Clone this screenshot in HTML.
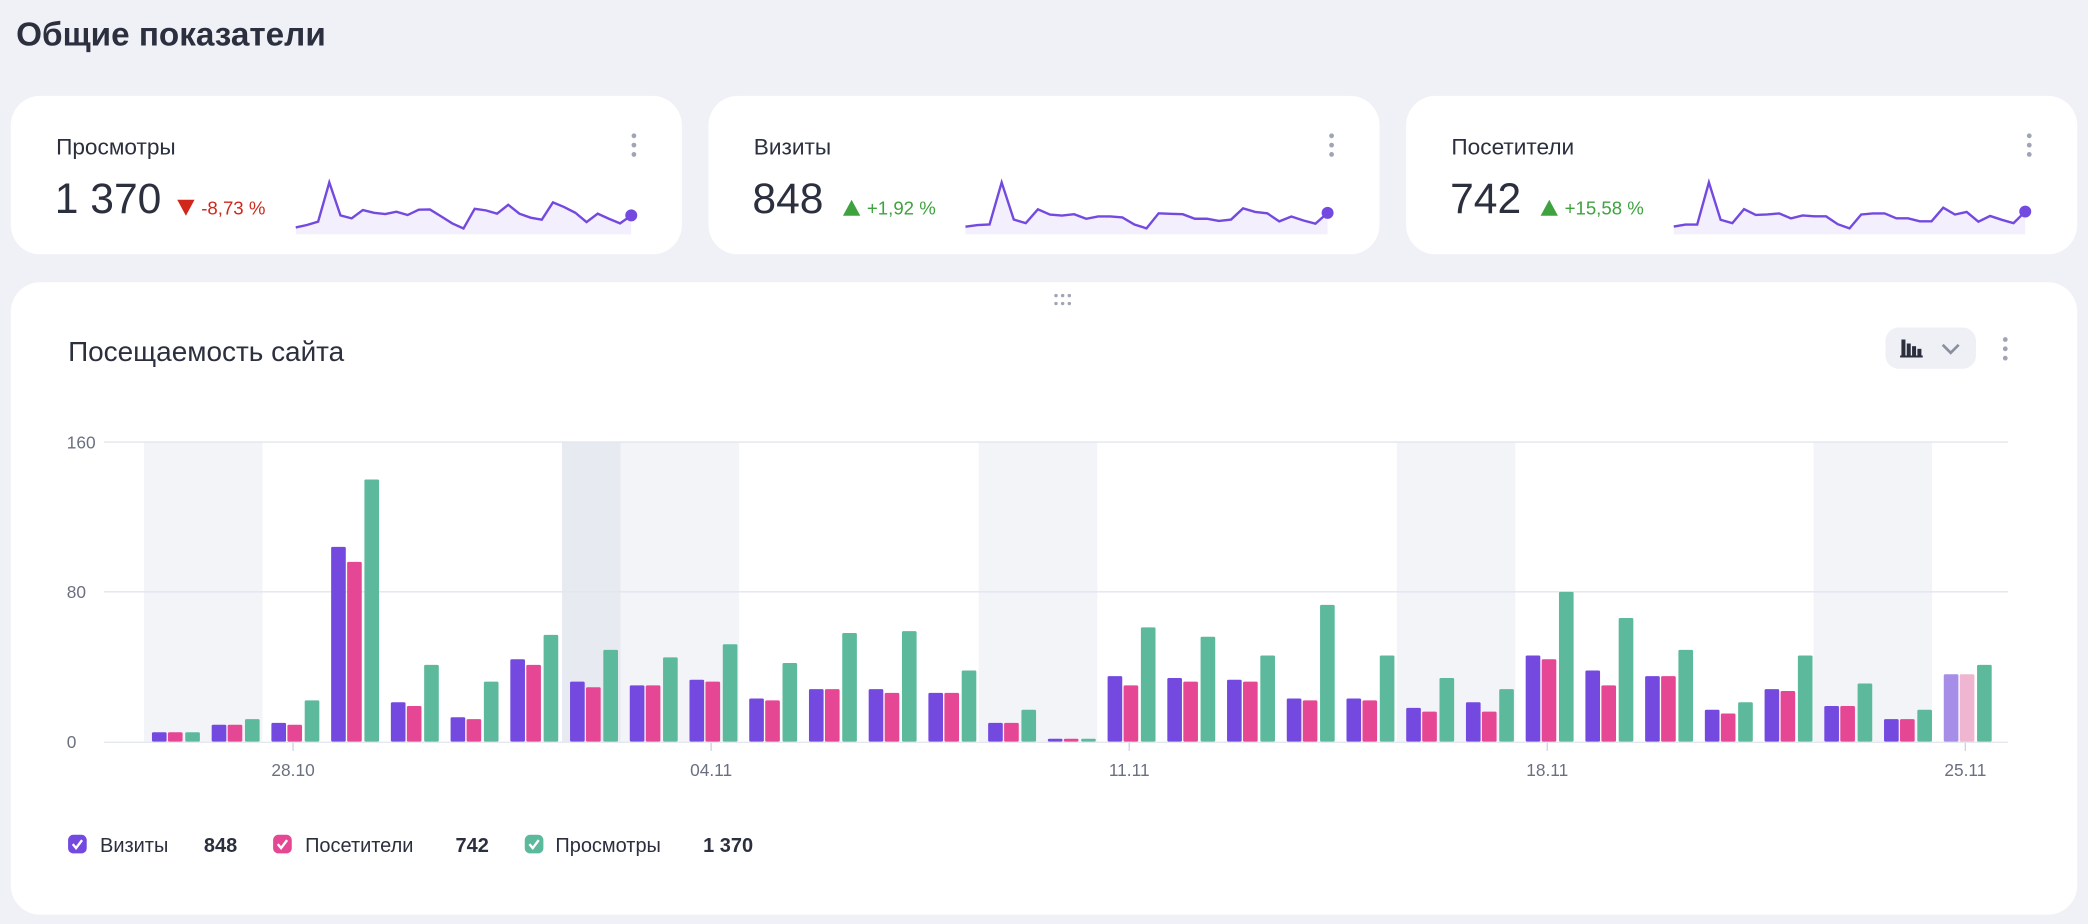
<!DOCTYPE html>
<html><head><meta charset="utf-8"><style>
html,body{margin:0;padding:0;background:#f0f1f6;}
svg{display:block;font-family:"Liberation Sans","DejaVu Sans",sans-serif;}
</style></head><body>
<svg id="s" width="2088" height="924" viewBox="0 0 1568 694" xmlns="http://www.w3.org/2000/svg">
<rect width="1568" height="694" fill="#f0f1f6"/>
<text x="12" y="34" font-size="25" font-weight="bold" fill="#2b2f3e">Общие показатели</text>
<rect x="8" y="72" width="504" height="119" rx="22" fill="#fff"/>
<rect x="532" y="72" width="504" height="119" rx="22" fill="#fff"/>
<rect x="1056" y="72" width="504" height="119" rx="22" fill="#fff"/>
<rect x="8" y="212" width="1552" height="475" rx="22" fill="#fff"/>
<g fill="#2b2f3e">
<text x="42" y="116" font-size="17">Просмотры</text>
<text x="566" y="116" font-size="17">Визиты</text>
<text x="1090" y="116" font-size="17">Посетители</text>
<text x="41" y="160" font-size="32">1 370</text>
<text x="565" y="160" font-size="32">848</text>
<text x="1089" y="160" font-size="32">742</text>
</g>
<path d="M133 150 L146 150 L139.5 162 Z" fill="#d0271a"/>
<text x="151" y="161" font-size="14" fill="#d0271a">-8,73 %</text>
<path d="M633 162 L646 162 L639.5 150 Z" fill="#3ea33e"/>
<text x="651" y="161" font-size="14" fill="#3ea33e">+1,92 %</text>
<path d="M1157 162 L1170 162 L1163.5 150 Z" fill="#3ea33e"/>
<text x="1175" y="161" font-size="14" fill="#3ea33e">+15,58 %</text>
<g fill="#a0a5b5">
<circle cx="476" cy="102" r="1.8"/><circle cx="476" cy="109" r="1.8"/><circle cx="476" cy="116" r="1.8"/>
<circle cx="1000" cy="102" r="1.8"/><circle cx="1000" cy="109" r="1.8"/><circle cx="1000" cy="116" r="1.8"/>
<circle cx="1524" cy="102" r="1.8"/><circle cx="1524" cy="109" r="1.8"/><circle cx="1524" cy="116" r="1.8"/>
<circle cx="1506" cy="255" r="1.8"/><circle cx="1506" cy="262" r="1.8"/><circle cx="1506" cy="269" r="1.8"/>
<circle cx="793" cy="222" r="1.3"/><circle cx="798" cy="222" r="1.3"/><circle cx="803" cy="222" r="1.3"/>
<circle cx="793" cy="228" r="1.3"/><circle cx="798" cy="228" r="1.3"/><circle cx="803" cy="228" r="1.3"/>
</g>
<text x="51" y="271" font-size="21" fill="#2b2f3e">Посещаемость сайта</text>
<rect x="1416" y="246" width="68" height="31" rx="10" fill="#eef0f5"/>
<g fill="#2b2f3e"><rect x="1428" y="255" width="3" height="13"/><rect x="1432" y="258" width="3" height="10"/><rect x="1436" y="260" width="3" height="8"/><rect x="1440" y="262" width="3" height="6"/><rect x="1427" y="267" width="17" height="1.5"/></g>
<path d="M1459 259 L1465 265 L1471 259" fill="none" stroke="#8a8fa0" stroke-width="2"/>
<g fill="#f3f4f8">
<rect x="108" y="332" width="89" height="225"/><rect x="466" y="332" width="89" height="225"/>
<rect x="735" y="332" width="89" height="225"/><rect x="1049" y="332" width="89" height="225"/><rect x="1362" y="332" width="89" height="225"/>
</g>
<rect x="422" y="332" width="44" height="225" fill="#e8eaf2"/>
<g stroke="#e3e5ee" stroke-width="1">
<line x1="78" y1="332" x2="1508" y2="332"/><line x1="78" y1="444.5" x2="1508" y2="444.5"/><line x1="78" y1="557.5" x2="1508" y2="557.5"/>
</g>
<g font-size="13" fill="#6b7080">
<text x="50" y="337">160</text><text x="50" y="449">80</text><text x="50" y="562">0</text>
</g>
<g font-size="13" fill="#6b7080" text-anchor="middle">
<text x="220" y="583">28.10</text><text x="534" y="583">04.11</text><text x="848" y="583">11.11</text><text x="1162" y="583">18.11</text><text x="1476" y="583">25.11</text>
</g>
<g stroke="#d0d3dd"><line x1="220" y1="558" x2="220" y2="564"/><line x1="534" y1="558" x2="534" y2="564"/><line x1="848" y1="558" x2="848" y2="564"/><line x1="1162" y1="558" x2="1162" y2="564"/><line x1="1476" y1="558" x2="1476" y2="564"/></g>
<g id="bars"></g>
<g id="spark"></g>
<rect x="51" y="627" width="14" height="14" rx="4" fill="#7349e0"/>
<rect x="205" y="627" width="14" height="14" rx="4" fill="#e54794"/>
<rect x="394" y="627" width="14" height="14" rx="4" fill="#5cb99c"/>
<g fill="none" stroke="#fff" stroke-width="1.8"><path d="M54.5 634 L57 637 L61.5 631"/><path d="M208.5 634 L211 637 L215.5 631"/><path d="M397.5 634 L400 637 L404.5 631"/></g>
<g font-size="15" fill="#2b2f3e">
<text x="75" y="640">Визиты</text><text x="153" y="640" font-weight="bold">848</text>
<text x="229" y="640">Посетители</text><text x="342" y="640" font-weight="bold">742</text>
<text x="417" y="640">Просмотры</text><text x="528" y="640" font-weight="bold">1 370</text>
</g>
</svg>
<script>
var V=[5,9,10,104,21,13,44,32,30,33,23,28,28,26,10,1.5,35,34,33,23,23,18,21,46,38,35,17,28,19,12,36];
var P=[5,9,9,96,19,12,41,29,30,32,22,28,26,26,10,1.5,30,32,32,22,22,16,16,44,30,35,15,27,19,12,36];
var G=[5,12,22,140,41,32,57,49,45,52,42,58,59,38,17,1.5,61,56,46,73,46,34,28,80,66,49,21,46,31,17,41];
var ns="http://www.w3.org/2000/svg",b=document.getElementById("bars"),sp=document.getElementById("spark");
function r(x,v,c){var e=document.createElementNS(ns,"rect");var h=v*1.40625;e.setAttribute("x",x);e.setAttribute("y",557-h);e.setAttribute("width",11);e.setAttribute("height",h);e.setAttribute("rx",1);e.setAttribute("fill",c);b.appendChild(e);}
for(var i=0;i<31;i++){var c=132+i*44.86;var last=i==30;
r(c-18,V[i],last?"#a58de8":"#7349e0");r(c-6,P[i],last?"#f0b5d0":"#e54794");r(c+7,G[i],"#5cb99c");}
function line(d,x0,x1,mx){var pts=[];for(var i=0;i<d.length;i++){var x=x0+(x1-x0)*i/(d.length-1);var y=172-Math.min(d[i],mx)/mx*35;pts.push(x.toFixed(1)+","+y.toFixed(1));}
var f=document.createElementNS(ns,"polygon");f.setAttribute("points",pts.join(" ")+" "+x1+",176 "+x0+",176");f.setAttribute("fill","#f3effd");sp.appendChild(f);
var p=document.createElementNS(ns,"polyline");p.setAttribute("points",pts.join(" "));p.setAttribute("fill","none");p.setAttribute("stroke","#7349e0");p.setAttribute("stroke-width","1.8");sp.appendChild(p);
var l=pts[pts.length-1].split(",");var cc=document.createElementNS(ns,"circle");cc.setAttribute("cx",l[0]);cc.setAttribute("cy",l[1]);cc.setAttribute("r",4.5);cc.setAttribute("fill","#7349e0");sp.appendChild(cc);}
line(G,222,474,140);line(V,725,997,104);line(P,1257,1521,96);
</script>
</body></html>
